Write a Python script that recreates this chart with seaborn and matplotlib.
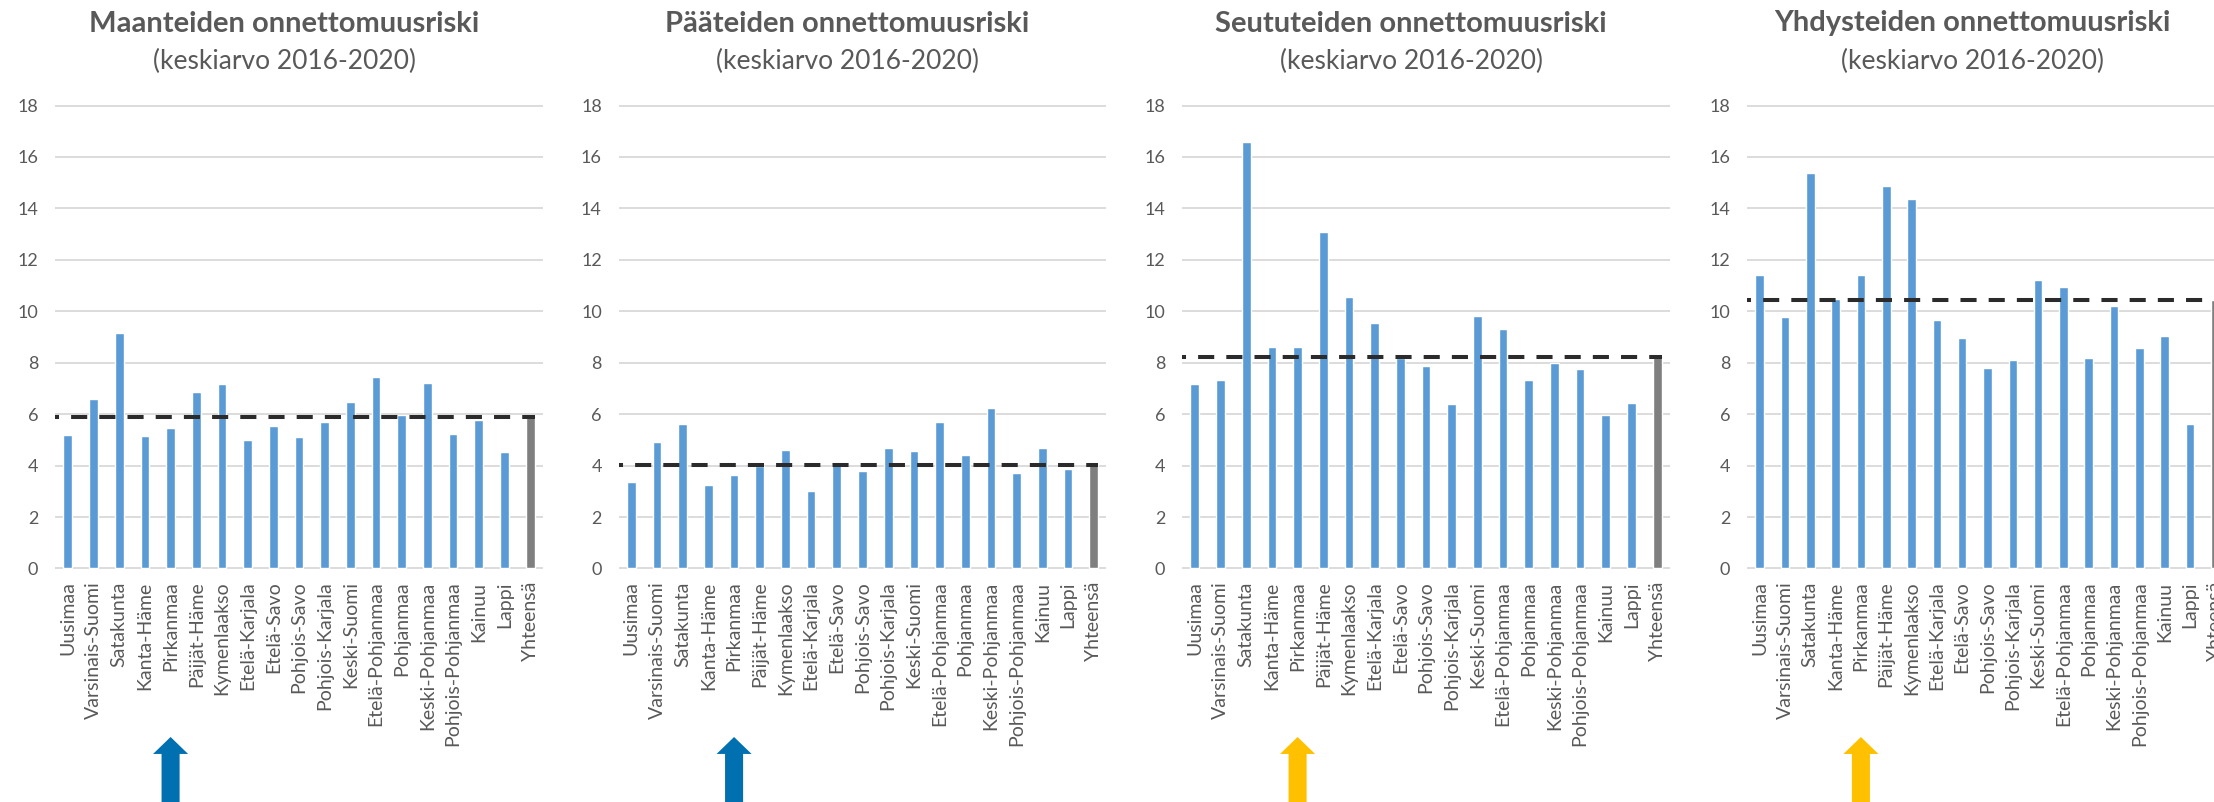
import matplotlib
matplotlib.use('Agg')
import matplotlib.pyplot as plt
import matplotlib.transforms as mtransforms
import seaborn as sns

# alueet ja onnettomuusriskit (keskiarvo 2016-2020)
regions = ['Uusimaa', 'Varsinais-Suomi', 'Satakunta', 'Kanta-Häme', 'Pirkanmaa',
           'Päijät-Häme', 'Kymenlaakso', 'Etelä-Karjala', 'Etelä-Savo', 'Pohjois-Savo',
           'Pohjois-Karjala', 'Keski-Suomi', 'Etelä-Pohjanmaa', 'Pohjanmaa',
           'Keski-Pohjanmaa', 'Pohjois-Pohjanmaa', 'Kainuu', 'Lappi', 'Yhteensä']

maantiet = [5.18, 6.58, 9.16, 5.15, 5.47, 6.88, 7.19, 4.98, 5.55, 5.11,
            5.69, 6.49, 7.44, 5.97, 7.23, 5.23, 5.79, 4.53, 5.90]
paatiet = [3.37, 4.93, 5.63, 3.25, 3.62, 3.97, 4.59, 3.00, 4.14, 3.79,
           4.68, 4.56, 5.70, 4.40, 6.24, 3.70, 4.68, 3.86, 4.04]
seututiet = [7.19, 7.31, 16.59, 8.63, 8.63, 13.10, 10.57, 9.56, 8.20, 7.89,
             6.40, 9.82, 9.33, 7.31, 7.98, 7.77, 5.97, 6.45, 8.24]
yhdystiet = [11.41, 9.77, 15.39, 10.47, 11.41, 14.87, 14.38, 9.68, 8.96, 7.80,
             8.12, 11.20, 10.96, 8.17, 10.22, 8.58, 9.04, 5.63, 10.42]

titles = ['Maanteiden onnettomuusriski', 'Pääteiden onnettomuusriski',
          'Seututeiden onnettomuusriski', 'Yhdysteiden onnettomuusriski']
subtitle = '(keskiarvo 2016-2020)'
yticks = [0, 2, 4, 6, 8, 10, 12, 14, 16, 18]
highlight = 'Pirkanmaa'
arrow_colors = ['#0070b0', '#0070b0', '#ffc000', '#ffc000']

sns.set_style('white')
plt.rcParams['font.family'] = ['Lato', 'DejaVu Sans']

W, H = 2214, 802
fig = plt.figure(figsize=(W / 100, H / 100), dpi=100)

# paneelien paikat pikseleinä
lefts = [55, 618.5, 1182, 1747]
widths = [488, 488, 488, 481]
top_px, bottom_px = 105, 569

text_col = '#595959'
bar_colors = ['#5b9bd5'] * (len(regions) - 1) + ['#7f7f7f']

for i, vals in enumerate([maantiet, paatiet, seututiet, yhdystiet]):
    ax = fig.add_axes([lefts[i] / W, 1 - bottom_px / H, widths[i] / W, (bottom_px - top_px) / H])
    sns.barplot(x=regions, y=vals, hue=regions, palette=bar_colors, width=0.34,
                saturation=1, legend=False, ax=ax, zorder=2)
    ax.set_xlim(-0.5, len(regions) - 0.5)
    ax.set_ylim(-0.02, 18.02)
    ax.set_yticks(yticks)
    ax.yaxis.grid(True, color='#d9d9d9', lw=1.3)
    ax.set_axisbelow(True)
    for s in ax.spines.values():
        s.set_visible(False)
    ax.set_xlabel('')
    ax.set_ylabel('')
    ax.tick_params(axis='y', length=0, pad=12, labelsize=13, labelcolor=text_col)
    ax.tick_params(axis='x', length=0, pad=9, labelsize=14, labelcolor=text_col, rotation=90)

    # keskiarvoviiva
    avg = vals[-1]
    ax.plot([-0.5, len(regions) - 1 + 0.17], [avg, avg], color='#2b2b2b', lw=2.9,
            linestyle=(3, (4, 3)), zorder=3, solid_capstyle='butt')

    cx = (lefts[i] + widths[i] / 2 - 15) / W
    fig.text(cx, 1 - 23.5 / H, titles[i], ha='center', va='center', fontsize=21,
             fontweight='bold', color=text_col)
    fig.text(cx, 1 - 61 / H, subtitle, ha='center', va='center', fontsize=19, color=text_col)

    # nuoli Pirkanmaan kohdalle
    trans = mtransforms.blended_transform_factory(ax.transData, fig.transFigure)
    xi = regions.index(highlight)
    ax.annotate('', xy=(xi, 1 - 737 / H), xycoords=trans, xytext=(xi, -0.05), textcoords=trans,
                annotation_clip=False,
                arrowprops=dict(arrowstyle='simple,head_length=1.22,head_width=2.52,tail_width=1.3',
                                mutation_scale=10, color=arrow_colors[i], lw=0,
                                shrinkA=0, shrinkB=0))

fig.savefig('out.png', dpi=100)
